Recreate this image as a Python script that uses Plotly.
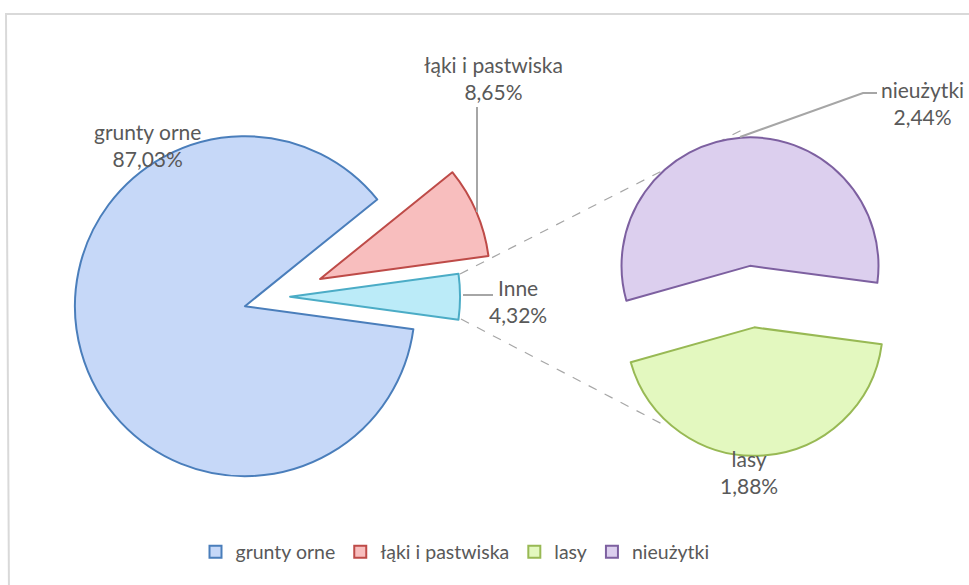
import plotly.graph_objects as go

# ---- data ----
main_labels = ["grunty orne", "łąki i pastwiska", "Inne"]
main_values = [87.03, 8.65, 4.32]
sub_labels = ["nieużytki", "lasy"]
sub_values = [2.44, 1.88]
legend_labels = ["grunty orne", "łąki i pastwiska", "lasy", "nieużytki"]

# ---- styling ----
W, H = 969, 585
FONT = "Lato"
TXT = "#595959"
fills = {"grunty orne": "#c6d8f8", "łąki i pastwiska": "#f8bebe",
         "Inne": "#bbebf8", "nieużytki": "#dccfee", "lasy": "#e3f8bf"}
edges = {"grunty orne": "#4a7ebb", "łąki i pastwiska": "#be4b48",
         "Inne": "#4bacc6", "nieużytki": "#7d60a0", "lasy": "#98b954"}


def px(x):
    return x / W


def py(y):
    return 1 - y / H


def fmt(v):
    return f"{v:.2f}".replace(".", ",") + "%"


fig = go.Figure()

total = sum(main_values)
fig.add_trace(go.Pie(
    labels=main_labels, values=main_values, sort=False,
    direction="clockwise",
    rotation=90 + 360 * main_values[2] / total / 2,
    pull=[0.208, 0.263, 0.065],
    marker=dict(colors=[fills[l] for l in main_labels],
                line=dict(color=[edges[l] for l in main_labels], width=2)),
    textinfo="none", hoverinfo="label+percent", showlegend=False,
    domain=dict(x=[px(64.3), px(493.7)], y=[py(511.4), py(82)]),
))

sub_total = sum(sub_values)
fig.add_trace(go.Pie(
    labels=sub_labels, values=sub_values, sort=False,
    direction="clockwise",
    rotation=97.6 - 360 * sub_values[0] / sub_total,
    pull=[0.24, 0.24],
    marker=dict(colors=[fills[l] for l in sub_labels],
                line=dict(color=[edges[l] for l in sub_labels], width=2)),
    textinfo="none", hoverinfo="label+percent", showlegend=False,
    domain=dict(x=[px(592.9), px(911.5)], y=[py(455.9), py(137.3)]),
))

# legend entries
for lab in legend_labels:
    fig.add_trace(go.Scatter(
        x=[None], y=[None], mode="markers", name=lab,
        marker=dict(symbol="square", size=12, color=fills[lab],
                    line=dict(color=edges[lab], width=2)),
    ))

# data labels
vals = dict(zip(main_labels + sub_labels, main_values + sub_values))
label_pos = {"grunty orne": (147, 145), "łąki i pastwiska": (493, 78),
             "Inne": (518, 301), "nieużytki": (922, 103), "lasy": (749, 472)}
annotations = []
for lab, (x, y) in label_pos.items():
    annotations.append(dict(
        x=px(x), y=py(y), xref="paper", yref="paper",
        text=f"{lab}<br>{fmt(vals[lab])}", showarrow=False,
        xanchor="center", yanchor="middle", align="center",
        font=dict(family=FONT, size=21, color=TXT),
    ))

shapes = []
# chart border
shapes.append(dict(type="path", xref="paper", yref="paper",
                   path=f"M {px(9)} {py(600)} L {px(6)} {py(14)} L {px(980)} {py(14)}",
                   line=dict(color="#d9d9d9", width=2)))
# connector (dashed) lines, below pies
for (x0, y0, x1, y1) in [(460, 274, 742, 130), (461, 319, 664, 425)]:
    shapes.append(dict(type="line", xref="paper", yref="paper", layer="below",
                       x0=px(x0), y0=py(y0), x1=px(x1), y1=py(y1),
                       line=dict(color="#a6a6a6", width=1.2, dash="dash")))
# leader lines
for pts in [[(477, 107), (477, 212)], [(463, 295), (493, 295)],
            [(740, 137), (863, 93), (877, 93)]]:
    path = "M " + " L ".join(f"{px(a)} {py(b)}" for a, b in pts)
    shapes.append(dict(type="path", xref="paper", yref="paper", path=path,
                       line=dict(color="#a6a6a6", width=2)))

fig.update_layout(
    width=W, height=H,
    margin=dict(l=0, r=0, t=0, b=0),
    paper_bgcolor="white", plot_bgcolor="white",
    xaxis=dict(visible=False), yaxis=dict(visible=False),
    font=dict(family=FONT, color=TXT),
    showlegend=True,
    legend=dict(orientation="h", x=px(455), xanchor="center",
                y=py(552), yanchor="middle",
                font=dict(family=FONT, size=19.5, color=TXT),
                itemwidth=30, bgcolor="rgba(0,0,0,0)"),
    annotations=annotations, shapes=shapes,
)

fig.write_html("out.html",
               config={"displayModeBar": False},
               post_script="document.body.style.margin='0';"
                           "document.body.style.overflow='hidden';")
